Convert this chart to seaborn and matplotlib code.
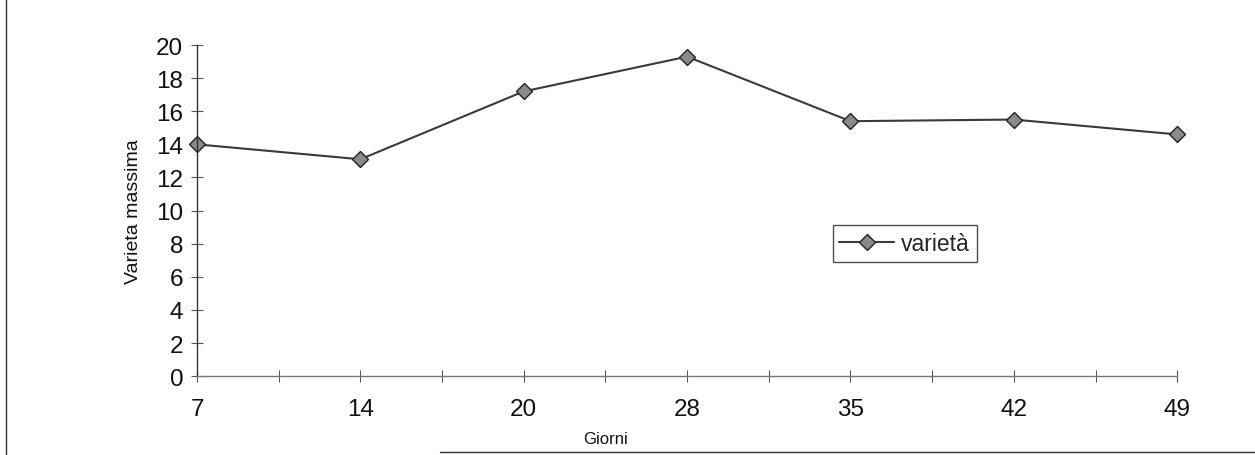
import matplotlib
matplotlib.use("Agg")
import matplotlib.pyplot as plt
import seaborn as sns
import pandas as pd
from matplotlib.ticker import MultipleLocator
from matplotlib.lines import Line2D

giorni = ["7", "14", "20", "28", "35", "42", "49"]
varieta = [14.0, 13.1, 17.2, 19.3, 15.4, 15.5, 14.6]
y_ticks = [0, 2, 4, 6, 8, 10, 12, 14, 16, 18, 20]

sns.set_theme(style="white")
plt.rcParams['font.family'] = ['Liberation Sans', 'DejaVu Sans']

df = pd.DataFrame({"Giorni": giorni, "varietà": varieta})

fig = plt.figure(figsize=(12.55, 4.56), dpi=100)
ax = fig.add_axes([0.157, 0.173, 0.781, 0.726])

sns.pointplot(data=df, x="Giorni", y="varietà", order=giorni, ax=ax,
              color="#3a3a3a", markers="D", linestyles="-",
              markersize=8, linewidth=1.5, errorbar=None)
for line in ax.lines:
    line.set_markerfacecolor("#8a8a8a")
    line.set_markeredgecolor("#222222")
    line.set_markeredgewidth(1.0)
    line.set_clip_on(False)
for coll in ax.collections:
    coll.set_clip_on(False)

ax.set_xlim(0, len(giorni) - 1)
ax.set_ylim(0, 20)
ax.set_yticks(y_ticks)
ax.xaxis.set_minor_locator(MultipleLocator(0.5))
ax.tick_params(axis='both', which='major', direction='inout', length=8,
               width=0.8, color='#555555', labelsize=17.5, labelcolor='#111111',
               left=True, bottom=True)
ax.tick_params(axis='x', which='major', pad=12)
ax.tick_params(axis='y', which='major', pad=6)
ax.tick_params(axis='x', which='minor', direction='inout', length=8,
               width=0.8, color='#555555', bottom=True)

for s in ["top", "right"]:
    ax.spines[s].set_visible(False)
ax.spines["left"].set_color("#333333")
ax.spines["left"].set_linewidth(1.0)
ax.spines["bottom"].set_color("#777777")
ax.spines["bottom"].set_linewidth(1.0)

ax.set_ylabel("Varieta massima", fontsize=14, color="#111111", labelpad=10)
ax.set_xlabel("")
fig.text(605 / 1255, 1 - 440 / 456, "Giorni", fontsize=12, color="#111111",
         ha="center", va="center")

handle = Line2D([], [], color="#3a3a3a", linewidth=1.5, marker="D",
                markersize=8, markerfacecolor="#8a8a8a", markeredgecolor="#222222")
leg = ax.legend([handle], ["varietà"], loc="center",
                bbox_to_anchor=(0.722, 0.40), fontsize=16.5, frameon=True,
                fancybox=False, edgecolor="#222222", handlelength=2.4,
                borderpad=0.3, handletextpad=0.3)
leg.get_frame().set_linewidth(1.0)

# page border lines from the scanned figure
fig.add_artist(Line2D([6 / 1255, 6 / 1255], [0, 1], color="#333333", linewidth=1.0))
fig.add_artist(Line2D([440 / 1255, 1], [3 / 456, 3 / 456], color="#333333", linewidth=1.0))

fig.savefig("out.png", dpi=100)
